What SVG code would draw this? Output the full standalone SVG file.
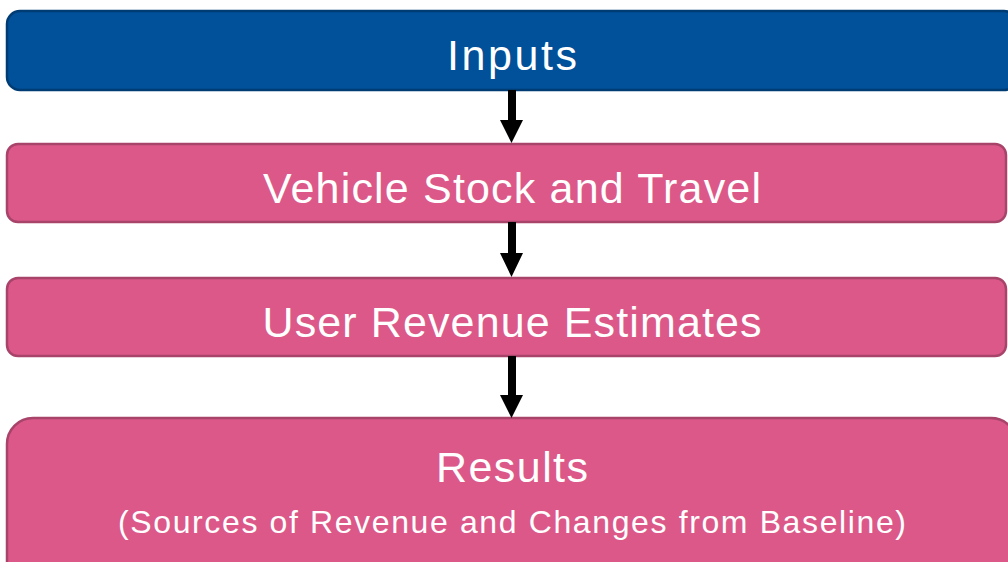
<svg xmlns="http://www.w3.org/2000/svg" width="1008" height="562" viewBox="0 0 1008 562">
<style>
.pink{fill:#dc5889;stroke:#a8436a;stroke-width:2.5}
.blue{fill:#00509a;stroke:#003c74;stroke-width:2.5}
.t{font-family:"Liberation Sans","Noto Sans",sans-serif;fill:#ffffff;text-anchor:middle}
.big{font-size:43px}
.small{font-size:32px}
</style>
<rect width="1008" height="562" fill="#ffffff"/>
<g id="inputs">
<rect class="blue" x="7" y="11" width="1010" height="79" rx="13"/>
<text class="t big" x="512" y="70" textLength="130">Inputs</text>
</g>
<g id="vehicle">
<rect class="pink" x="7" y="144" width="999" height="78" rx="11"/>
<text class="t big" x="512" y="203" textLength="498">Vehicle Stock and Travel</text>
</g>
<g id="revenue">
<rect class="pink" x="7" y="278" width="999" height="78" rx="11"/>
<text class="t big" x="512" y="337" textLength="499">User Revenue Estimates</text>
</g>
<g id="results">
<rect class="pink" x="7" y="418" width="1010" height="170" rx="26"/>
<text class="t big" x="512" y="482" textLength="152">Results</text>
<text class="t small" x="512" y="533" textLength="788">(Sources of Revenue and Changes from Baseline)</text>
</g>
<g id="connectors" fill="#000000">
<polygon points="508,90 516,90 516,120 523,120 511.5,143 500,120 508,120"/>
<polygon points="508,222 516,222 516,253 523,253 511.5,277 500,253 508,253"/>
<polygon points="508,356 516,356 516,395 523,395 511.5,418 500,395 508,395"/>
</g>
</svg>
